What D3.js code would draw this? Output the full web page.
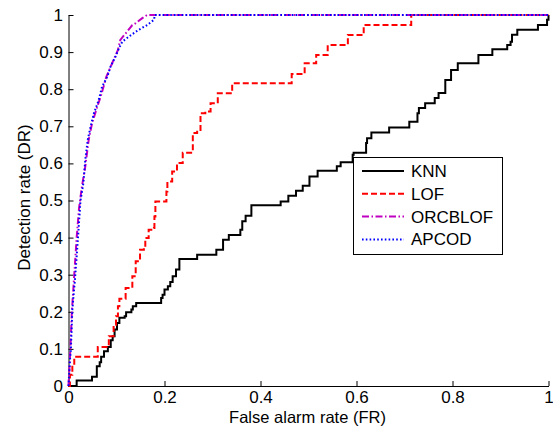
<!DOCTYPE html>
<html>
<head>
<meta charset="utf-8">
<script src="https://cdnjs.cloudflare.com/ajax/libs/d3/7.8.5/d3.min.js"></script>
<style>
body { margin: 0; background: white; }
text { font-family: "Liberation Sans", Arial, sans-serif; }
</style>
</head>
<body>
<script>
// ROC data, [false alarm rate, detection rate]
var knn = [[0,0],[0.017,0.015],[0.049,0.025],[0.059,0.053],[0.065,0.064],[0.068,0.079],
	[0.074,0.094],[0.082,0.105],[0.088,0.123],[0.092,0.134],[0.096,0.152],[0.101,0.170],
	[0.106,0.184],[0.117,0.188],[0.120,0.199],[0.131,0.206],[0.134,0.215],[0.141,0.224],
	[0.193,0.237],[0.196,0.246],[0.200,0.260],[0.207,0.269],[0.212,0.280],[0.217,0.296],
	[0.224,0.314],[0.231,0.342],[0.268,0.354],[0.308,0.367],[0.322,0.394],[0.334,0.407],
	[0.358,0.421],[0.362,0.444],[0.369,0.459],[0.381,0.487],[0.442,0.497],[0.458,0.513],
	[0.474,0.526],[0.488,0.540],[0.502,0.565],[0.519,0.580],[0.559,0.592],[0.567,0.603],
	[0.592,0.623],[0.594,0.629],[0.620,0.655],[0.622,0.668],[0.631,0.683],[0.668,0.697],
	[0.710,0.712],[0.727,0.735],[0.730,0.749],[0.743,0.762],[0.763,0.776],[0.771,0.790],
	[0.785,0.825],[0.797,0.852],[0.811,0.870],[0.854,0.892],[0.883,0.908],[0.914,0.919],
	[0.921,0.928],[0.924,0.947],[0.935,0.960],[0.978,0.973],[0.997,0.987],[1,1]]

var lof = [[0,0],[0.003,0.03],[0.008,0.06],[0.012,0.079],[0.061,0.105],[0.084,0.134],
	[0.094,0.165],[0.099,0.188],[0.103,0.215],[0.106,0.235],[0.119,0.264],[0.133,0.296],
	[0.140,0.336],[0.147,0.340],[0.149,0.367],[0.157,0.372],[0.160,0.399],[0.167,0.421],
	[0.178,0.426],[0.179,0.457],[0.181,0.497],[0.204,0.524],[0.206,0.551],[0.216,0.578],
	[0.226,0.601],[0.238,0.629],[0.259,0.682],[0.268,0.690],[0.275,0.735],[0.285,0.740],
	[0.296,0.762],[0.311,0.789],[0.341,0.816],[0.465,0.841],[0.492,0.870],[0.516,0.892],
	[0.540,0.919],[0.582,0.946],[0.615,0.973],[0.714,1],[1,1]]

var orcblof = [[0,0],[0.002,0.05],[0.004,0.10],[0.007,0.20],[0.012,0.30],[0.017,0.40],
	[0.022,0.48],[0.028,0.538],[0.035,0.592],[0.042,0.663],[0.049,0.708],[0.060,0.753],
	[0.067,0.78],[0.079,0.834],[0.094,0.879],[0.103,0.906],[0.108,0.933],[0.122,0.955],
	[0.133,0.973],[0.140,0.978],[0.153,0.991],[0.164,1],[1,1]]

var apcod = [[0,0],[0.003,0.07],[0.005,0.10],[0.008,0.206],[0.014,0.296],[0.019,0.385],
	[0.025,0.50],[0.031,0.547],[0.035,0.610],[0.040,0.663],[0.046,0.699],[0.053,0.735],
	[0.063,0.771],[0.070,0.807],[0.081,0.834],[0.0875,0.861],[0.098,0.888],[0.105,0.910],
	[0.112,0.928],[0.126,0.942],[0.136,0.951],[0.146,0.960],[0.164,0.973],[0.178,0.987],
	[0.18,1],[1,1]]

var names = ['KNN', 'LOF', 'ORCBLOF', 'APCOD']
var xTicks = [0, 0.2, 0.4, 0.6, 0.8, 1]
var yTicks = [0, 0.1, 0.2, 0.3, 0.4, 0.5, 0.6, 0.7, 0.8, 0.9, 1]

var series = [
	{name: names[0], data: knn, color: 'black', dash: null, step: true},
	{name: names[1], data: lof, color: '#ff0000', dash: '6,3', step: true},
	{name: names[2], data: orcblof, color: '#c000c0', dash: '7,2.5,1.5,2.5', step: false},
	{name: names[3], data: apcod, color: '#0000ff', dash: '1.6,2.2', step: false}
]

var svg = d3.select('body').append('svg')
	.attr('width', 553)
	.attr('height', 432)

var x = d3.scaleLinear().domain([0, 1]).range([68.5, 548.5])
var y = d3.scaleLinear().domain([0, 1]).range([386, 15])

//axes
var xAxis = svg.append('g')
	.attr('transform', 'translate(0,386)')
	.call(d3.axisBottom(x).tickValues(xTicks).tickFormat(d3.format('')).tickSizeInner(-5).tickSizeOuter(0).tickPadding(5))

var yAxis = svg.append('g')
	.attr('transform', 'translate(68.5,0)')
	.call(d3.axisLeft(y).tickValues(yTicks).tickFormat(d3.format('')).tickSizeInner(-5).tickSizeOuter(0).tickPadding(5.5))

svg.selectAll('.tick text')
	.attr('font-size', 17)
	.attr('font-family', '"Liberation Sans", Arial, sans-serif')
	.attr('fill', 'black')
svg.selectAll('.domain, .tick line').attr('stroke', 'black')

//axis labels
svg.append('text')
	.attr('x', 307.5)
	.attr('y', 422.5)
	.attr('text-anchor', 'middle')
	.attr('font-size', 16.5)
	.text('False alarm rate (FR)')

svg.append('text')
	.attr('transform', 'translate(30,197.5) rotate(-90)')
	.attr('text-anchor', 'middle')
	.attr('font-size', 17)
	.text('Detection rate (DR)')

//curves
series.forEach(function(s){
	var line = d3.line()
		.x(function(d){ return x(d[0]) })
		.y(function(d){ return y(d[1]) })
		.curve(s.step ? d3.curveStepAfter : d3.curveLinear)
	svg.append('path')
		.datum(s.data)
		.attr('d', line)
		.attr('fill', 'none')
		.attr('stroke', s.color)
		.attr('stroke-width', 2)
		.attr('stroke-dasharray', s.dash)
})

//legend
var legend = svg.append('g')
	.attr('transform', 'translate(353,157)')

legend.append('rect')
	.attr('x', 0.5)
	.attr('y', 0.5)
	.attr('width', 149)
	.attr('height', 97)
	.attr('fill', 'white')
	.attr('stroke', 'black')

var items = legend.selectAll('.item')
	.data(series)
	.enter().append('g')
	.attr('transform', function(d, i){ return 'translate(0,' + (14 + i * 22.8) + ')' })

items.append('line')
	.attr('x1', 9)
	.attr('x2', 51)
	.attr('stroke', function(d){ return d.color })
	.attr('stroke-width', 2)
	.attr('stroke-dasharray', function(d){ return d.dash })

items.append('text')
	.attr('x', 58)
	.attr('dy', '0.35em')
	.attr('font-size', 17)
	.text(function(d){ return d.name })
</script>
</body>
</html>
